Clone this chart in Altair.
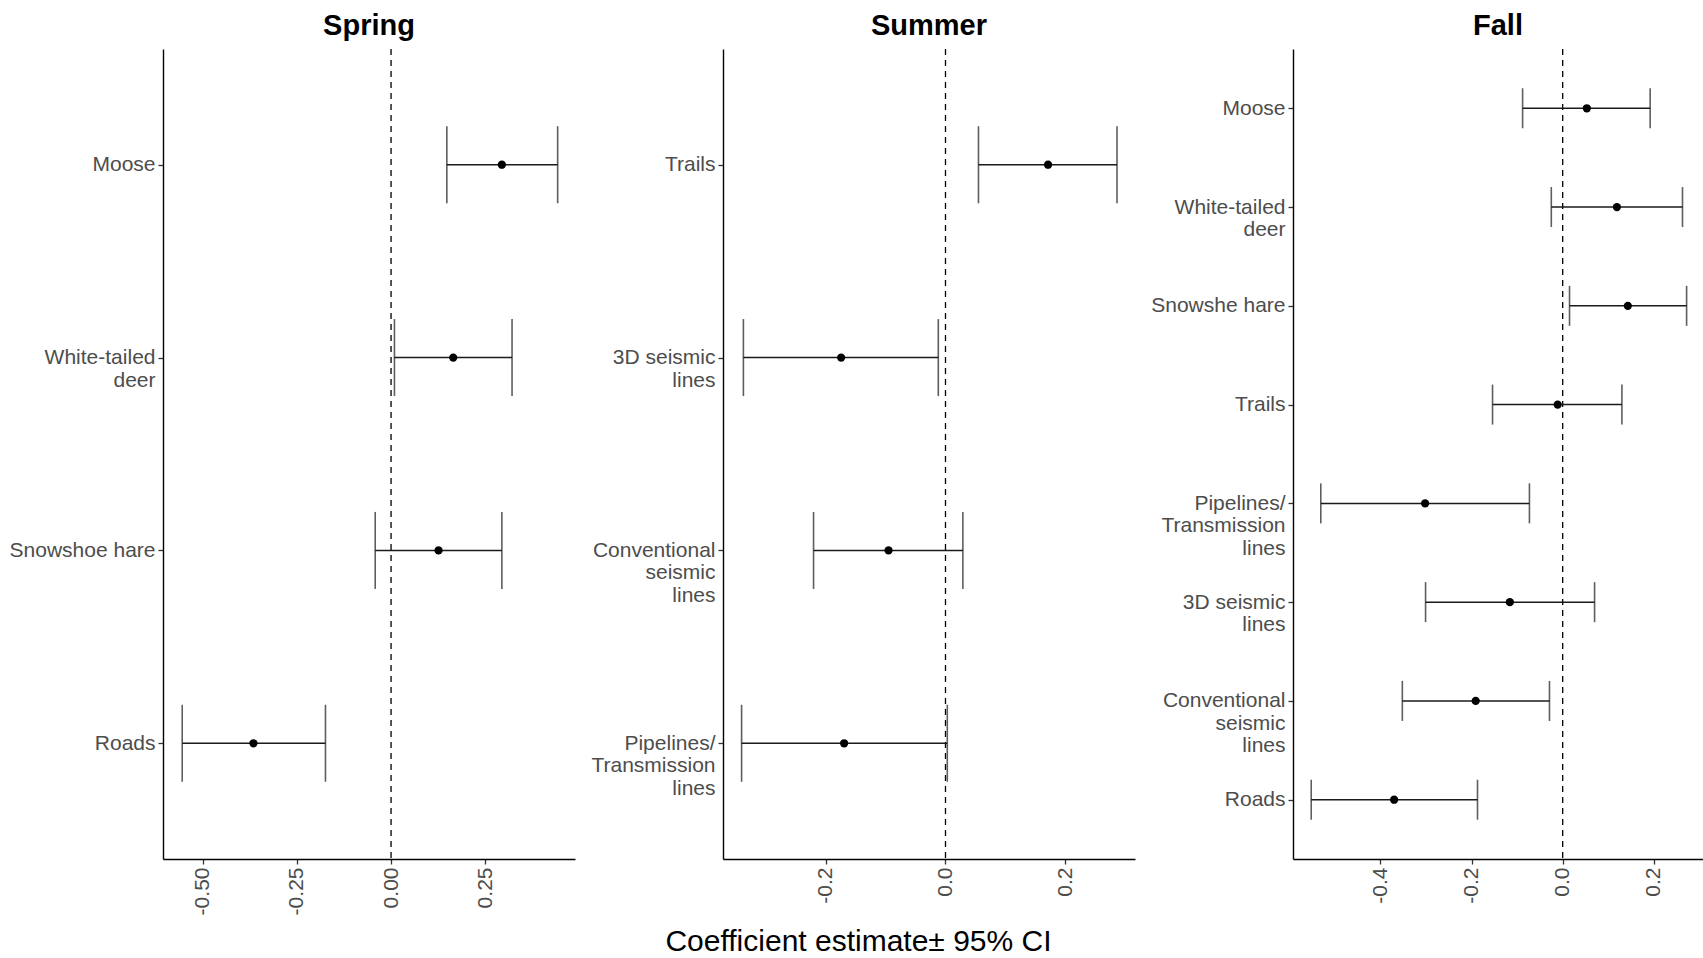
import altair as alt
import pandas as pd

# ---- coefficient estimates with 95% CI, one block per season ----
spring_terms = ["Moose", "White-tailed\ndeer", "Snowshoe hare", "Roads"]
spring_est = [0.294, 0.165, 0.126, -0.365]
spring_lo = [0.148, 0.009, -0.042, -0.554]
spring_hi = [0.442, 0.321, 0.294, -0.174]

summer_terms = ["Trails", "3D seismic\nlines", "Conventional\nseismic\nlines",
                "Pipelines/\nTransmission\nlines"]
summer_est = [0.171, -0.174, -0.095, -0.169]
summer_lo = [0.055, -0.337, -0.220, -0.340]
summer_hi = [0.286, -0.012, 0.029, 0.003]

fall_terms = ["Moose", "White-tailed\ndeer", "Snowshe hare", "Trails",
              "Pipelines/\nTransmission\nlines", "3D seismic\nlines",
              "Conventional\nseismic\nlines", "Roads"]
fall_est = [0.053, 0.119, 0.143, -0.011, -0.302, -0.116, -0.191, -0.370]
fall_lo = [-0.088, -0.025, 0.015, -0.154, -0.531, -0.301, -0.352, -0.552]
fall_hi = [0.192, 0.263, 0.272, 0.130, -0.073, 0.070, -0.029, -0.187]

spring_ticks = [-0.50, -0.25, 0.00, 0.25]
summer_ticks = [-0.2, 0.0, 0.2]
fall_ticks = [-0.4, -0.2, 0.0, 0.2]

FONT = "Liberation Sans"
INK = "#1a1a1a"
PLOT_H = 810
# tick labels use a plain hyphen for negative numbers
HYPHEN_EXPR = "replace(datum.label, '\u2212', '-')"


def panel(title, terms, est, lo, hi, domain, ticks, fmt, width, cap,
          axis_len=None, axis_title=None, title_x=0, title_dx=0):
    df = pd.DataFrame({"term": terms, "est": est, "lo": lo, "hi": hi})
    scale_kw = dict(domain=domain, nice=False, zero=False)
    if axis_len:
        scale_kw["range"] = [0, axis_len]
    xs = alt.Scale(**scale_kw)
    axis_kw = dict(values=ticks, format=fmt, labelAngle=270, labelFlush=False,
                   labelExpr=HYPHEN_EXPR)
    if axis_title:
        xaxis = alt.Axis(title=axis_title, titleX=title_x, titleY=91,
                         titleAlign="center", titleBaseline="alphabetic",
                         titleFontSize=30, titleFontWeight="normal",
                         titleColor="black", titleFont=FONT, **axis_kw)
    else:
        xaxis = alt.Axis(title=None, **axis_kw)
    y = alt.Y("term:N", sort=terms,
              scale=alt.Scale(type="point", padding=0.6),
              axis=alt.Axis(title=None, labelExpr="split(datum.label, '\\n')"))

    base = alt.Chart(df)
    zero = alt.Chart(pd.DataFrame({"v": [0.0]})).mark_rule(
        color="black", strokeWidth=1.3, strokeDash=[6, 5]
    ).encode(x=alt.X("v:Q", scale=xs, axis=xaxis))
    bars = base.mark_rule(color=INK, strokeWidth=1.5).encode(
        x=alt.X("lo:Q", scale=xs, axis=xaxis), x2="hi:Q", y=y)
    cap_lo = base.mark_tick(color=INK, size=cap, thickness=1.6).encode(
        x=alt.X("lo:Q", scale=xs, axis=xaxis), y=y)
    cap_hi = base.mark_tick(color=INK, size=cap, thickness=1.6).encode(
        x=alt.X("hi:Q", scale=xs, axis=xaxis), y=y)
    dots = base.mark_circle(color="black", size=68, opacity=1).encode(
        x=alt.X("est:Q", scale=xs, axis=xaxis), y=y)

    return alt.layer(zero, bars, cap_lo, cap_hi, dots).properties(
        width=width, height=PLOT_H,
        title=alt.TitleParams(text=title, fontSize=29, fontWeight="bold",
                              font=FONT, color="black", anchor="middle",
                              baseline="alphabetic", offset=-16, dx=title_dx),
    )


spring = panel("Spring", spring_terms, spring_est, spring_lo, spring_hi,
               [-0.605, 0.488], spring_ticks, ".2f", 412, 77)
summer = panel("Summer", summer_terms, summer_est, summer_lo, summer_hi,
               [-0.371, 0.316], summer_ticks, ".1f", 422, 77, axis_len=412,
               axis_title="Coefficient estimate\u00b1 95% CI", title_x=135,
               title_dx=-5)
fall = panel("Fall", fall_terms, fall_est, fall_lo, fall_hi,
             [-0.592, 0.308], fall_ticks, ".1f", 410, 40)

chart = alt.hconcat(spring, summer, fall, spacing=148, bounds="flush").properties(
    padding={"left": 9, "top": 12, "right": 0, "bottom": 0},
    background="white",
).configure_view(stroke=None).configure_axis(
    grid=False,
    domainColor="black", domainWidth=1.4,
    tickColor="#333333", tickWidth=1.3, tickSize=5,
    labelColor="#4d4d4d", labelFont=FONT, labelFontSize=21,
    labelPadding=3, labelLineHeight=22.5, labelOverlap=False, labelBound=False,
)

chart.save("out.html", embed_options={"renderer": "svg", "actions": False})
